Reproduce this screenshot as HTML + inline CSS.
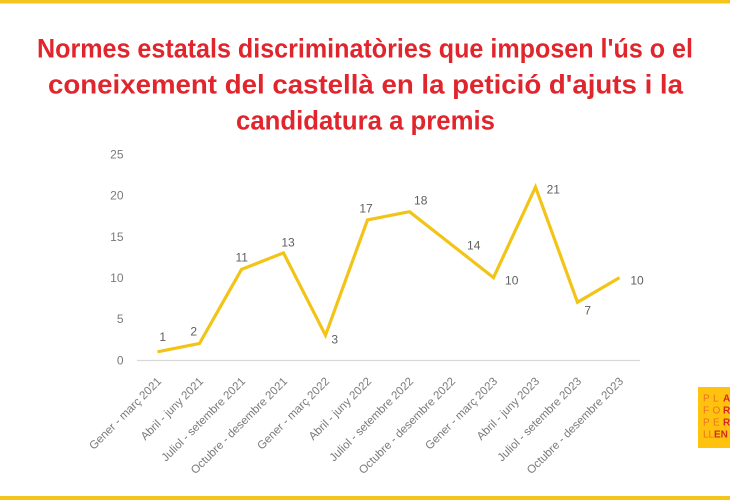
<!DOCTYPE html>
<html>
<head>
<meta charset="utf-8">
<style>
  html,body{margin:0;padding:0;background:#fff;}
  body{width:730px;height:500px;overflow:hidden;}
  svg{display:block;}
</style>
</head>
<body>
<svg width="730" height="500" viewBox="0 0 730 500" xmlns="http://www.w3.org/2000/svg">
  <rect x="0" y="0" width="730" height="500" fill="#ffffff"/>
  <!-- top / bottom yellow bars -->
  <rect x="0" y="0" width="730" height="3.5" fill="#F4C51C"/>
  <rect x="0" y="496" width="730" height="4" fill="#F4C51C"/>

  <!-- title -->
  <g font-family="'Liberation Sans', Arial, sans-serif" font-weight="bold" font-size="26.5" fill="#E1252D" text-anchor="middle">
    <text x="365" y="57.5" textLength="656" lengthAdjust="spacingAndGlyphs">Normes estatals discriminatòries que imposen l'ús o el</text>
    <text x="365.5" y="93.5" textLength="635" lengthAdjust="spacingAndGlyphs">coneixement del castellà en la petició d'ajuts i la</text>
    <text x="365.5" y="129.5" textLength="259" lengthAdjust="spacingAndGlyphs">candidatura a premis</text>
  </g>

  <!-- y axis labels -->
  <g font-family="'Liberation Sans', Arial, sans-serif" font-size="12" fill="#7a7a7a" text-anchor="end">
    <text x="123.5" y="158.3">25</text>
    <text x="123.5" y="199.5">20</text>
    <text x="123.5" y="240.8">15</text>
    <text x="123.5" y="282">10</text>
    <text x="123.5" y="323.2">5</text>
    <text x="123.5" y="364.4">0</text>
  </g>

  <!-- baseline -->
  <line x1="137" y1="360.5" x2="640" y2="360.5" stroke="#d9d9d9" stroke-width="1.2"/>

  <!-- series -->
  <polyline fill="none" stroke="#F3C418" stroke-width="3.2" stroke-linejoin="miter" stroke-miterlimit="6"
    points="157.5,351.8 199.5,343.5 241.5,269.4 283.5,252.9 325.5,335.3 367.5,219.9 409.5,211.7 451.5,244.6 493.5,277.6 535.5,187.0 577.5,302.3 619.5,277.6"/>

  <!-- data labels -->
  <g font-family="'Liberation Sans', Arial, sans-serif" font-size="12" fill="#5f5f5f" text-anchor="middle">
    <text x="162.7" y="341">1</text>
    <text x="193.7" y="335.3">2</text>
    <text x="241.7" y="261.3">11</text>
    <text x="288" y="246.3">13</text>
    <text x="334.7" y="343.3">3</text>
    <text x="366" y="212.3">17</text>
    <text x="420.7" y="204.3">18</text>
    <text x="473.7" y="249.3">14</text>
    <text x="511.7" y="284.3">10</text>
    <text x="553.3" y="193.3">21</text>
    <text x="587.7" y="314.3">7</text>
    <text x="637" y="284.3">10</text>
  </g>

  <!-- x axis labels -->
  <g font-family="'Liberation Sans', Arial, sans-serif" font-size="11.5" fill="#7a7a7a" text-anchor="end">
    <text transform="translate(162,382) rotate(-45)">Gener - març 2021</text>
    <text transform="translate(204,382) rotate(-45)">Abril - juny 2021</text>
    <text transform="translate(246,382) rotate(-45)">Juliol - setembre 2021</text>
    <text transform="translate(288,382) rotate(-45)">Octubre - desembre 2021</text>
    <text transform="translate(330,382) rotate(-45)">Gener - març 2022</text>
    <text transform="translate(372,382) rotate(-45)">Abril - juny 2022</text>
    <text transform="translate(414,382) rotate(-45)">Juliol - setembre 2022</text>
    <text transform="translate(456,382) rotate(-45)">Octubre - desembre 2022</text>
    <text transform="translate(498,382) rotate(-45)">Gener - març 2023</text>
    <text transform="translate(540,382) rotate(-45)">Abril - juny 2023</text>
    <text transform="translate(582,382) rotate(-45)">Juliol - setembre 2023</text>
    <text transform="translate(624,382) rotate(-45)">Octubre - desembre 2023</text>
  </g>

  <!-- logo -->
  <rect x="698" y="387" width="32" height="61" fill="#FFC20E"/>
  <g font-family="'Liberation Sans', Arial, sans-serif" font-size="10">
    <text x="703" y="401.5" fill="#E8741E">P</text>
    <text x="713" y="401.5" fill="#E8741E">L</text>
    <text x="723" y="401.5" fill="#D4281F" font-weight="bold">A</text>
    <text x="703" y="413.5" fill="#E8741E">F</text>
    <text x="712.5" y="413.5" fill="#E8741E">O</text>
    <text x="723" y="413.5" fill="#D4281F" font-weight="bold">R</text>
    <text x="703" y="425.5" fill="#E8741E">P</text>
    <text x="713" y="425.5" fill="#E8741E">E</text>
    <text x="723" y="425.5" fill="#D4281F" font-weight="bold">R</text>
    <text x="703" y="437.5" fill="#E8741E">LL</text>
    <text x="714" y="437.5" fill="#D4281F" font-weight="bold">EN</text>
  </g>
</svg>
</body>
</html>
